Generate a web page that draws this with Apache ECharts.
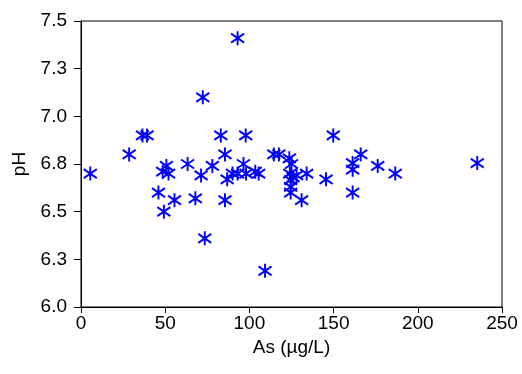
<!DOCTYPE html>
<html>
<head>
<meta charset="utf-8">
<script src="https://cdn.jsdelivr.net/npm/echarts@6/dist/echarts.min.js"></script>
<style>
  html, body { margin: 0; padding: 0; background: #fff; }
  #main { width: 522px; height: 374px; }
</style>
</head>
<body>
<div id="main"></div>
<script>
// As concentration (µg/L) vs pH
var asValues = [5.5, 28.6, 36.5, 39.2, 46, 49.2, 48.5, 50.7, 52, 55.5,
  63.3, 67.9, 71.3, 72.3, 73.5, 78, 83, 85.5, 85.5, 86.8,
  90, 93, 93, 96.5, 97.8, 98, 103.5, 105.5, 109.3, 114.5,
  117.5, 123.7, 125, 124, 126, 128, 124.5, 124.5, 124.5, 134,
  131, 145.5, 149.8, 161.3, 161.3, 161.3, 166.1, 176.2, 186.6, 235.3];
var phValues = [6.70, 6.80, 6.90, 6.90, 6.60, 6.50, 6.71, 6.74, 6.70, 6.56,
  6.75, 6.57, 6.69, 7.10, 6.36, 6.74, 6.90, 6.80, 6.56, 6.67,
  6.70, 7.41, 6.70, 6.75, 6.90, 6.70, 6.71, 6.70, 6.19, 6.80,
  6.80, 6.78, 6.75, 6.70, 6.68, 6.69, 6.665, 6.63, 6.60, 6.70,
  6.56, 6.67, 6.90, 6.755, 6.72, 6.60, 6.80, 6.74, 6.70, 6.755];

var points = [];
for (var i = 0; i < asValues.length; i++) {
  points.push([asValues[i], phValues[i]]);
}

var chart = echarts.init(document.getElementById('main'));
var font = 'Liberation Sans, Arial, sans-serif';

var option = {
  backgroundColor: '#fff',
  animation: false,
  grid: {
    left: 81, right: 20, top: 21, bottom: 67,
    show: true, borderColor: '#000', borderWidth: 1,
    backgroundColor: 'transparent'
  },
  xAxis: {
    type: 'value',
    min: 0, max: 250, interval: 50,
    name: 'As (µg/L)',
    nameLocation: 'middle',
    nameGap: 26,
    nameTextStyle: { color: '#000', fontSize: 19, fontFamily: font },
    axisLine: { lineStyle: { color: '#000', width: 1 } },
    axisTick: { inside: false, length: 6, lineStyle: { color: '#000' } },
    axisLabel: { color: '#000', fontSize: 19, fontFamily: font, margin: 7 },
    splitLine: { show: false }
  },
  yAxis: {
    type: 'value',
    min: 6.0, max: 7.5, interval: 0.25,
    name: 'pH',
    nameLocation: 'middle',
    nameGap: 49,
    nameRotate: 90,
    nameTextStyle: { color: '#000', fontSize: 19, fontFamily: font },
    axisLine: { show: true, lineStyle: { color: '#000', width: 1 } },
    axisTick: { show: true, inside: false, length: 7, lineStyle: { color: '#000' } },
    axisLabel: {
      color: '#000', fontSize: 19, fontFamily: font, margin: 14,
      formatter: function (v) { return v.toFixed(1); }
    },
    splitLine: { show: false }
  },
  series: [{
    type: 'scatter',
    data: points,
    symbol: 'path://M0,-7L0,7M-6,-4.5L6,4.5M-6,4.5L6,-4.5',
    symbolSize: [13, 14],
    itemStyle: { color: 'rgba(0,0,0,0)', borderColor: '#0000ff', borderWidth: 2, opacity: 1 }
  }]
};

chart.setOption(option);
</script>
</body>
</html>
